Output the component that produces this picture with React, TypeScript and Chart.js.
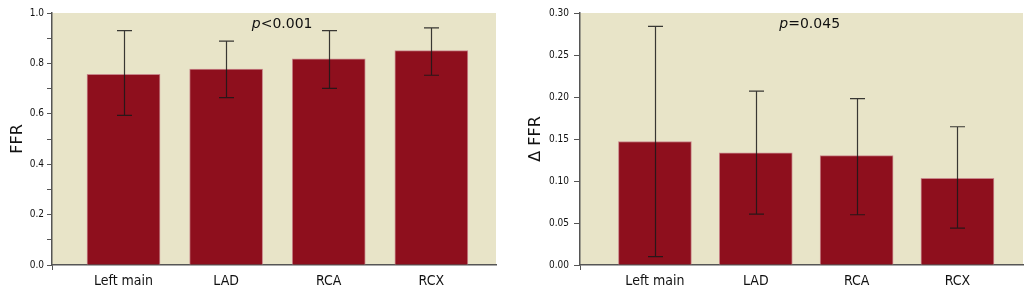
import React, { useEffect, useRef } from "react";
import { Chart, registerables } from "chart.js";

Chart.register(...registerables);

const categories = ["Left main", "LAD", "RCA", "RCX"];

const ffrMean = [0.757, 0.777, 0.818, 0.851];
const ffrLow = [0.594, 0.664, 0.701, 0.753];
const ffrHigh = [0.93, 0.888, 0.93, 0.941];

const dffrMean = [0.147, 0.1335, 0.1303, 0.1032];
const dffrLow = [0.01, 0.0606, 0.0598, 0.0438];
const dffrHigh = [0.284, 0.2071, 0.198, 0.1646];

const ffrTicks = [0, 0.2, 0.4, 0.6, 0.8, 1.0];
const dffrTicks = [0, 0.05, 0.1, 0.15, 0.2, 0.25, 0.3];

const BG = "#e8e4c8";
const BAR = "#8e0f1d";
const AXIS = "#555555";
const TICK_FONT = "'DejaVu Sans Condensed', 'Liberation Sans Narrow', 'DejaVu Sans', sans-serif";

type Cfg = {
  width: number;
  yWidth: number;
  padRight: number;
  xMin: number;
  xMax: number;
  barPx: number;
  mean: number[];
  low: number[];
  high: number[];
  yMax: number;
  yStep: number;
  yLabels: number[];
  decimals: number;
  yTitle: string;
  titlePad: number;
  tickLen: number;
  tickPad: number;
  pPrefix: string;
  pRest: string;
};

const bgPlugin = {
  id: "bgFill",
  beforeDraw(chart: any) {
    const { ctx, chartArea } = chart;
    ctx.save();
    ctx.fillStyle = BG;
    ctx.fillRect(chartArea.left, chartArea.top, chartArea.right - chartArea.left, chartArea.bottom - chartArea.top);
    ctx.restore();
  },
};

function makeErrPlugin(cfg: Cfg) {
  return {
    id: "errBars",
    afterDatasetsDraw(chart: any) {
      const { ctx, chartArea } = chart;
      const xs = chart.scales.x;
      const ys = chart.scales.y;
      ctx.save();
      ctx.strokeStyle = "rgba(25,25,25,0.85)";
      ctx.lineWidth = 1.2;
      cfg.mean.forEach((_, i) => {
        const x = Math.round(xs.getPixelForValue(i)) + 0.5;
        const yl = ys.getPixelForValue(cfg.low[i]);
        const yh = ys.getPixelForValue(cfg.high[i]);
        ctx.beginPath();
        ctx.moveTo(x, yh);
        ctx.lineTo(x, yl);
        ctx.moveTo(x - 7.5, yh);
        ctx.lineTo(x + 7.5, yh);
        ctx.moveTo(x - 7.5, yl);
        ctx.lineTo(x + 7.5, yl);
        ctx.stroke();
      });
      // p value text
      const tx = chartArea.left + 0.45 * (chartArea.right - chartArea.left);
      const ty = chartArea.top + 15;
      ctx.fillStyle = "#111";
      ctx.textBaseline = "alphabetic";
      ctx.textAlign = "left";
      ctx.font = "italic 14px 'DejaVu Sans', sans-serif";
      ctx.fillText(cfg.pPrefix, tx, ty);
      const w = ctx.measureText(cfg.pPrefix).width;
      ctx.font = "14px 'DejaVu Sans', sans-serif";
      ctx.fillText(cfg.pRest, tx + w, ty);
      ctx.restore();
    },
  };
}

function BarPanel({ cfg }: { cfg: Cfg }) {
  const ref = useRef<HTMLCanvasElement | null>(null);
  useEffect(() => {
    if (!ref.current) return;
    const chart = new Chart(ref.current, {
      type: "bar",
      data: {
        datasets: [
          {
            data: cfg.mean.map((v, i) => ({ x: i, y: v })),
            backgroundColor: BAR,
            borderColor: "#c8868a",
            borderWidth: 1,
            borderSkipped: "bottom",
            barThickness: cfg.barPx,
          },
        ],
      },
      options: {
        responsive: false,
        animation: false,
        layout: { padding: { top: 13, right: cfg.padRight, left: 0, bottom: 0 } },
        plugins: { legend: { display: false }, tooltip: { enabled: false } },
        scales: {
          x: {
            type: "linear",
            offset: false,
            min: cfg.xMin,
            max: cfg.xMax,
            afterBuildTicks: (s: any) => {
              s.ticks = [{ value: cfg.xMin }, ...categories.map((_, i) => ({ value: i }))];
            },
            afterFit: (s: any) => {
              s.height = 30;
            },
            ticks: {
              autoSkip: false,
              maxRotation: 0,
              padding: 3,
              color: "#111",
              font: { family: TICK_FONT, size: 14 },
              callback: (v: any) => (Number.isInteger(v) && v >= 0 ? categories[v] : ""),
            },
            grid: {
              offset: false,
              drawOnChartArea: false,
              tickLength: 5,
              color: (c: any) => (c.index === 0 ? AXIS : "rgba(0,0,0,0)"),
            },
            border: { display: true, color: AXIS, width: 1.5 },
          },
          y: {
            min: 0,
            max: cfg.yMax,
            afterFit: (s: any) => {
              s.width = cfg.yWidth;
            },
            ticks: {
              stepSize: cfg.yStep,
              padding: cfg.tickPad,
              color: "#111",
              font: { family: TICK_FONT, size: 10 },
              callback: (v: any) => {
                const n = Number(v);
                const ok = cfg.yLabels.some((t) => Math.abs(t - n) < 1e-6);
                return ok ? n.toFixed(cfg.decimals) : "";
              },
            },
            grid: { drawOnChartArea: false, tickLength: cfg.tickLen, color: AXIS },
            border: { display: true, color: AXIS, width: 1.5 },
            title: {
              display: true,
              text: cfg.yTitle,
              color: "#111",
              font: { family: "'DejaVu Sans', sans-serif", size: 16 },
              padding: { top: cfg.titlePad, bottom: 0 },
            },
          },
        },
      },
      plugins: [bgPlugin, makeErrPlugin(cfg)],
    } as any);
    return () => chart.destroy();
  }, [cfg]);
  return <canvas ref={ref} width={cfg.width} height={295} style={{ display: "block", width: cfg.width, height: 295 }} />;
}

const leftCfg: Cfg = {
  width: 516,
  yWidth: 52,
  padRight: 20,
  xMin: -0.697,
  xMax: 3.63,
  barPx: 73,
  mean: ffrMean,
  low: ffrLow,
  high: ffrHigh,
  yMax: 1.0,
  yStep: 0.1,
  yLabels: ffrTicks,
  decimals: 1,
  yTitle: "FFR",
  titlePad: 8,
  tickLen: 5,
  tickPad: 3,
  pPrefix: "p",
  pRest: "<0.001",
};

const rightCfg: Cfg = {
  width: 517,
  yWidth: 64,
  padRight: 10,
  xMin: -0.743,
  xMax: 3.65,
  barPx: 73,
  mean: dffrMean,
  low: dffrLow,
  high: dffrHigh,
  yMax: 0.3,
  yStep: 0.05,
  yLabels: dffrTicks,
  decimals: 2,
  yTitle: "Δ FFR",
  titlePad: 10,
  tickLen: 6,
  tickPad: 5,
  pPrefix: "p",
  pRest: "=0.045",
};

export default function App() {
  return (
    <div style={{ position: "absolute", left: 0, top: 0, width: 1033, height: 295, display: "flex", background: "#fff" }}>
      <BarPanel cfg={leftCfg} />
      <BarPanel cfg={rightCfg} />
    </div>
  );
}
